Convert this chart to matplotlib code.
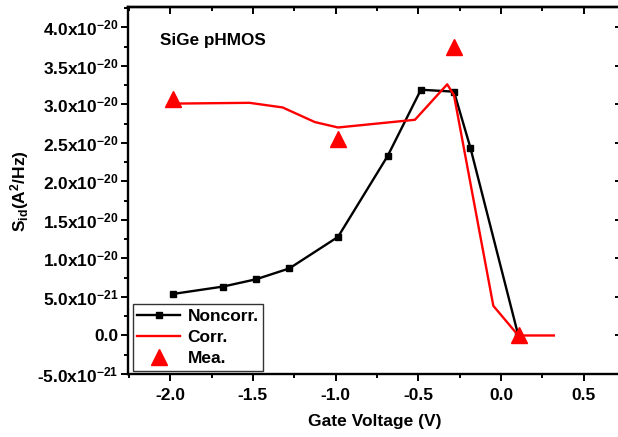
import matplotlib
matplotlib.use("Agg")
import matplotlib.pyplot as plt
from matplotlib.ticker import MultipleLocator, FixedLocator, FuncFormatter

plt.rcParams['font.family'] = ['Liberation Sans', 'DejaVu Sans']
plt.rcParams['font.weight'] = 'bold'
plt.rcParams['mathtext.fontset'] = 'custom'
plt.rcParams['mathtext.rm'] = 'Liberation Sans:bold'
plt.rcParams['mathtext.it'] = 'Liberation Sans:bold'
plt.rcParams['mathtext.bf'] = 'Liberation Sans:bold'
plt.rcParams['mathtext.default'] = 'rm'

# Noise spectral density vs gate voltage
noncorr_vg = [-1.98, -1.68, -1.48, -1.28, -0.985, -0.685, -0.484, -0.284, -0.185, 0.105]
noncorr_sid = [5.4e-21, 6.35e-21, 7.3e-21, 8.7e-21, 1.28e-20, 2.33e-20, 3.19e-20, 3.165e-20, 2.44e-20, 0.0]

corr_vg = [-1.98, -1.52, -1.32, -1.125, -0.985, -0.52, -0.325, -0.284, -0.046, 0.105, 0.32]
corr_sid = [3.01e-20, 3.02e-20, 2.96e-20, 2.77e-20, 2.70e-20, 2.80e-20, 3.26e-20, 3.12e-20, 3.85e-21, 0.0, 0.0]

mea_vg = [-1.98, -0.985, -0.284, 0.11]
mea_sid = [3.07e-20, 2.55e-20, 3.75e-20, 0.0]

x_ticks = [-2.0, -1.5, -1.0, -0.5, 0.0, 0.5]
y_ticks = [-5e-21, 0.0, 5e-21, 1e-20, 1.5e-20, 2e-20, 2.5e-20, 3e-20, 3.5e-20, 4e-20]

fig = plt.figure(figsize=(6.18, 4.37), dpi=100)
ax = fig.add_axes([128 / 618, 1 - 374 / 437, 494 / 618, (374 - 7.3) / 437])

ax.plot(noncorr_vg, noncorr_sid, color='black', lw=1.7, marker='s', ms=5, label='Noncorr.')
ax.plot(corr_vg, corr_sid, color='#ff0000', lw=1.7, label='Corr.')
ax.plot(mea_vg, mea_sid, ls='none', color='#ff0000', marker='^', ms=11, label='Mea.')

ax.set_xlim(-2.255, 0.732)
ax.set_ylim(-5e-21, 4.26e-20)

ax.xaxis.set_major_locator(FixedLocator(x_ticks))
ax.xaxis.set_minor_locator(MultipleLocator(0.25))
ax.yaxis.set_major_locator(FixedLocator(y_ticks))
ax.yaxis.set_minor_locator(MultipleLocator(2.5e-21))


def sci_label(v, pos):
    if abs(v) < 1e-30:
        return '0.0'
    exp = 0
    m = abs(v)
    while m >= 10:
        m /= 10
        exp += 1
    while m < 1:
        m *= 10
        exp -= 1
    sign = '-' if v < 0 else ''
    return r'%s%.1fx10$^{%d}$' % (sign, m, exp)


ax.yaxis.set_major_formatter(FuncFormatter(sci_label))
ax.xaxis.set_major_formatter(FuncFormatter(lambda v, p: '%.1f' % v))

ax.tick_params(which='both', direction='out', width=1.4, top=False, right=False)
ax.tick_params(axis='y', labelsize=12.5, pad=2)
ax.tick_params(axis='x', labelsize=12.5, pad=5)
ax.tick_params(which='major', length=5)
ax.tick_params(which='minor', length=3)

# inward ticks on the top and right frame
sec_x = ax.secondary_xaxis('top')
sec_x.xaxis.set_major_locator(FixedLocator(x_ticks))
sec_x.xaxis.set_minor_locator(MultipleLocator(0.25))
sec_x.tick_params(which='both', direction='in', width=1.4, labeltop=False)
sec_x.tick_params(which='major', length=5)
sec_x.tick_params(which='minor', length=3)
sec_y = ax.secondary_yaxis('right')
sec_y.yaxis.set_major_locator(FixedLocator(y_ticks))
sec_y.yaxis.set_minor_locator(MultipleLocator(2.5e-21))
sec_y.tick_params(which='both', direction='in', width=1.4, labelright=False)
sec_y.tick_params(which='major', length=5)
sec_y.tick_params(which='minor', length=3)

for s in ax.spines.values():
    s.set_linewidth(1.7)
sec_x.spines['top'].set_linewidth(1.7)
sec_y.spines['right'].set_linewidth(1.7)

ax.set_xlabel('Gate Voltage (V)', fontsize=12.5, fontweight='bold', labelpad=8)
ax.set_ylabel(r'S$_{id}$(A$^{2}$/Hz)', fontsize=12.5, fontweight='bold', labelpad=4)

ax.text(0.065, 0.91, 'SiGe pHMOS', transform=ax.transAxes, fontsize=12.3,
        fontweight='bold', va='center', ha='left')

leg = ax.legend(loc='lower left', bbox_to_anchor=(0.0096, 0.009), borderaxespad=0,
                fontsize=12.5, frameon=True, fancybox=False, edgecolor='black',
                handlelength=2.5, handletextpad=0.4, labelspacing=0.35,
                borderpad=0.25)
leg.get_frame().set_linewidth(1.0)
for t in leg.get_texts():
    t.set_fontweight('bold')

fig.savefig('out.png', dpi=100)
